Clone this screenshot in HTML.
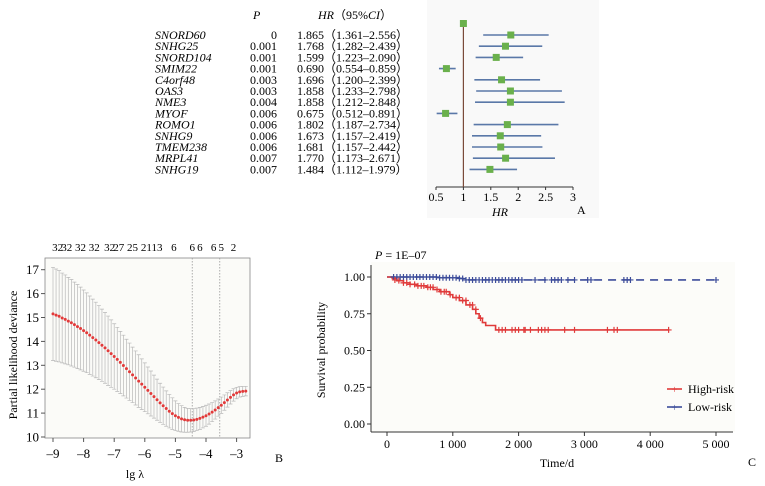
<!DOCTYPE html>
<html><head><meta charset="utf-8"><style>
html,body{margin:0;padding:0;background:#fff;}
svg{display:block;font-family:"Liberation Serif",serif;}
</style></head><body>
<svg id="fig" width="765" height="486" viewBox="0 0 765 486">
<g id="pa">
<rect x="427" y="0" width="172" height="218" fill="#f9f9f9"/>
<text x="253" y="19" font-style="italic" font-size="12">P</text>
<text x="318" y="19" font-size="12"><tspan font-style="italic">HR</tspan>（95%<tspan font-style="italic">CI</tspan>）</text>
<text x="500" y="216" font-style="italic" font-size="12" text-anchor="middle">HR</text>
<text x="577" y="214" font-size="12">A</text>
</g>
<g id="pb">
<rect x="45" y="258" width="205" height="180" fill="#fbfbf8" stroke="#888" stroke-width="0.8"/>
<text transform="translate(17,355) rotate(-90)" font-size="12" text-anchor="middle">Partial likelihood deviance</text>
<text x="135" y="478" font-size="12" text-anchor="middle">lg λ</text>
<text x="275" y="462" font-size="12">B</text>
</g>
<g id="pc">
<rect x="371" y="262" width="364" height="170" fill="#fcfcf9"/>
<line x1="371" y1="265" x2="371" y2="432" stroke="#333" stroke-width="1"/>
<line x1="371" y1="432" x2="733" y2="432" stroke="#333" stroke-width="1"/>
<text x="375" y="259" font-size="12"><tspan font-style="italic">P</tspan> = 1E–07</text>
<text transform="translate(325,350) rotate(-90)" font-size="12" text-anchor="middle">Survival probability</text>
<text x="557" y="467" font-size="12" text-anchor="middle">Time/d</text>
<text x="748" y="466" font-size="12">C</text>
<line x1="667" y1="389" x2="682" y2="389" stroke="#e03a3a" stroke-width="1.6"/>
<text x="674.5" y="393" font-size="11" fill="#e03a3a" text-anchor="middle">+</text>
<text x="688" y="393" font-size="12">High-risk</text>
<line x1="667" y1="407" x2="682" y2="407" stroke="#3c4c9a" stroke-width="1.6"/>
<text x="674.5" y="411" font-size="11" fill="#3c4c9a" text-anchor="middle">+</text>
<text x="688" y="411" font-size="12">Low-risk</text>
</g>
</svg>
<script>
// ---- Panel A data
const genes=["SNORD60","SNHG25","SNORD104","SMIM22","C4orf48","OAS3","NME3","MYOF","ROMO1","SNHG9","TMEM238","MRPL41","SNHG19"];
const pvals=["0","0.001","0.001","0.001","0.003","0.003","0.004","0.006","0.006","0.006","0.006","0.007","0.007"];
const hr=[1.865,1.768,1.599,0.690,1.696,1.858,1.858,0.675,1.802,1.673,1.681,1.770,1.484];
const lo=[1.361,1.282,1.223,0.554,1.200,1.233,1.212,0.512,1.187,1.157,1.157,1.173,1.112];
const hi=[2.556,2.439,2.090,0.859,2.399,2.798,2.848,0.891,2.734,2.419,2.442,2.671,1.979];
const hrTicks=[0.5,1,1.5,2,2.5,3];
// ---- Panel B data
const lambdaStart=-9.0, lambdaStep=0.1;
const devMean=[15.15,15.10,15.05,14.98,14.92,14.85,14.78,14.70,14.62,14.54,14.45,14.36,14.26,14.16,14.06,13.95,13.84,13.73,13.61,13.49,13.37,13.25,13.12,12.99,12.86,12.73,12.60,12.47,12.34,12.21,12.08,11.95,11.82,11.69,11.56,11.43,11.31,11.19,11.08,10.98,10.89,10.82,10.76,10.72,10.70,10.70,10.71,10.74,10.78,10.83,10.89,10.96,11.04,11.13,11.23,11.33,11.44,11.55,11.66,11.76,11.84,11.89,11.91,11.92];
const devSe=[1.95,1.93,1.91,1.88,1.86,1.83,1.81,1.78,1.76,1.73,1.70,1.67,1.64,1.61,1.58,1.55,1.51,1.48,1.45,1.41,1.37,1.34,1.30,1.27,1.23,1.20,1.16,1.13,1.10,1.06,1.02,0.98,0.94,0.90,0.86,0.82,0.78,0.74,0.70,0.66,0.62,0.58,0.55,0.52,0.50,0.49,0.48,0.47,0.46,0.45,0.44,0.42,0.40,0.38,0.36,0.34,0.32,0.30,0.28,0.26,0.24,0.22,0.21,0.20];
const lamTicks=[-9,-8,-7,-6,-5,-4,-3];
const devTicks=[10,11,12,13,14,15,16,17];
const topLab=["32","32","32","32","32","27","25","21","13","6","6","6","6","5","2"];
const topLabX=[-8.85,-8.55,-8.1,-7.65,-7.15,-6.85,-6.4,-5.95,-5.6,-5.05,-4.45,-4.2,-3.75,-3.5,-3.1];
const vlines=[-4.45,-3.55];
// ---- Panel C data
const highT=[0,80,150,250,350,450,600,700,800,950,1000,1100,1200,1300,1350,1400,1450,1500,1650,4280];
const highS=[1.00,0.99,0.975,0.96,0.95,0.94,0.93,0.915,0.90,0.88,0.86,0.84,0.81,0.78,0.75,0.72,0.69,0.67,0.64,0.64];
const highCens=[120,180,250,300,350,420,470,520,560,620,660,700,760,820,870,900,960,1050,1100,1150,1200,1260,1300,1350,1420,1700,1750,1800,1900,1950,2000,2080,2100,2180,2300,2350,2400,2450,2700,2850,3350,3450,3500,4280];
const highCensS=[0.98,0.975,0.96,0.96,0.95,0.95,0.94,0.94,0.94,0.93,0.93,0.93,0.915,0.90,0.90,0.90,0.88,0.86,0.86,0.84,0.84,0.81,0.81,0.78,0.72,0.64,0.64,0.64,0.64,0.64,0.64,0.64,0.64,0.64,0.64,0.64,0.64,0.64,0.64,0.64,0.64,0.64,0.64,0.64];
const lowT=[0,800,1100,1200,5000];
const lowS=[1.00,0.995,0.99,0.98,0.98];
const lowCens=[100,150,200,250,300,350,400,450,500,550,600,650,700,750,800,850,900,950,1000,1050,1100,1150,1200,1250,1300,1350,1400,1450,1500,1550,1600,1650,1700,1750,1800,1850,1900,1950,2000,2050,2250,2400,2500,2550,2600,2650,2750,2850,3050,3100,3600,3650,3700,5000];
const survTicks=[0,0.25,0.5,0.75,1];
const timeTicks=[0,1000,2000,3000,4000,5000];
const timeLab=["0","1 000","2 000","3 000","4 000","5 000"];

const NS="http://www.w3.org/2000/svg";
function mk(parent,tag,attrs,txt){const e=document.createElementNS(NS,tag);for(const k in attrs)e.setAttribute(k,attrs[k]);if(txt!==undefined)e.textContent=txt;parent.appendChild(e);return e;}

// Panel A
const pa=document.getElementById('pa');
const xA=v=>436+(v-0.5)*54.8;
const rowY=i=>35+i*11.2;
mk(pa,'line',{x1:xA(0.5),y1:187,x2:xA(3),y2:187,stroke:'#333','stroke-width':1});
hrTicks.forEach(t=>{
 mk(pa,'line',{x1:xA(t),y1:187,x2:xA(t),y2:190,stroke:'#333'});
 const tx=mk(pa,'text',{x:xA(t),y:201,'font-size':12,'text-anchor':'middle'},String(t));
 
 
});
const ref=mk(pa,'line',{x1:xA(1),y1:20,x2:xA(1),y2:187,stroke:'#7a4a3a','stroke-width':1.2});


const refSq=mk(pa,'rect',{x:xA(1)-3.5,y:20,width:7,height:7,fill:'#6ab04c'});


genes.forEach((g,i)=>{
 const y=rowY(i);
 const t1=mk(pa,'text',{x:155,y:y+4,'font-size':12,'font-style':'italic'},g);
 
 
 const t2=mk(pa,'text',{x:277,y:y+4,'font-size':12,'text-anchor':'end'},pvals[i]);
 
 
 const t3=mk(pa,'text',{x:297,y:y+4,'font-size':12},hr[i].toFixed(3)+"（"+lo[i].toFixed(3)+"–"+hi[i].toFixed(3)+"）");
 
 
 const l=mk(pa,'line',{x1:xA(lo[i]),y1:y,x2:xA(hi[i]),y2:y,stroke:'#5a78a8','stroke-width':1.6});
 
 
 const s=mk(pa,'rect',{x:xA(hr[i])-3.5,y:y-3.5,width:7,height:7,fill:'#6ab04c'});
 
 
});

// Panel B
const pb=document.getElementById('pb');
const xB=v=>53+(v+9)*30.6;
const yB=v=>437-(v-10)*23.9;
lamTicks.forEach(t=>{
 mk(pb,'line',{x1:xB(t),y1:438,x2:xB(t),y2:442,stroke:'#555'});
 const tx=mk(pb,'text',{x:xB(t),y:458,'font-size':13,'text-anchor':'middle'},'–'+Math.abs(t));
 
 
});
devTicks.forEach(t=>{
 mk(pb,'line',{x1:41,y1:yB(t),x2:45,y2:yB(t),stroke:'#555'});
 const tx=mk(pb,'text',{x:39,y:yB(t)+4.5,'font-size':13,'text-anchor':'end'},String(t));
 
 
});
topLab.forEach((s,i)=>{
 const tx=mk(pb,'text',{x:xB(topLabX[i]),y:251,'font-size':11,'text-anchor':'middle'},s);
 
 
});
vlines.forEach(v=>{
 const l=mk(pb,'line',{x1:xB(v),y1:258,x2:xB(v),y2:438,stroke:'#999','stroke-width':0.8,'stroke-dasharray':'1.5,1.5'});
 
 
});
devMean.forEach((m,i)=>{
 const lam=lambdaStart+i*lambdaStep, x=xB(lam), u=yB(m+devSe[i]), d=yB(m-devSe[i]);
 const e=mk(pb,'path',{d:`M${x},${u}V${d}M${x-2},${u}H${x+2}M${x-2},${d}H${x+2}`,stroke:'#b8b8b8','stroke-width':0.7,fill:'none'});
 
 
});
devMean.forEach((m,i)=>{
 const lam=lambdaStart+i*lambdaStep;
 const c=mk(pb,'circle',{cx:xB(lam),cy:yB(m),r:1.5,fill:'#e23a3a'});
 
 
});

// Panel C
const pc=document.getElementById('pc');
const xC=v=>387+v*0.0658;
const yC=v=>424-v*147;
survTicks.forEach(t=>{
 mk(pc,'line',{x1:367,y1:yC(t),x2:371,y2:yC(t),stroke:'#333'});
 const tx=mk(pc,'text',{x:365,y:yC(t)+4,'font-size':12,'text-anchor':'end'},t.toFixed(2));
 
 
});
timeTicks.forEach((t,i)=>{
 mk(pc,'line',{x1:xC(t),y1:432,x2:xC(t),y2:436,stroke:'#333'});
 const tx=mk(pc,'text',{x:xC(t),y:448,'font-size':12,'text-anchor':'middle'},timeLab[i]);
 
 
});
function stepPath(T,S){let d=`M${xC(T[0])},${yC(S[0])}`;for(let i=1;i<T.length;i++){d+=`H${xC(T[i])}V${yC(S[i])}`;}return d;}
const lowP=mk(pc,'path',{d:stepPath(lowT,lowS),stroke:'#3c4c9a','stroke-width':1.6,fill:'none','stroke-dasharray':'8,6'});


const highP=mk(pc,'path',{d:stepPath(highT,highS),stroke:'#e03a3a','stroke-width':1.6,fill:'none'});


function survAt(T,S,t){let s=S[0];for(let i=0;i<T.length;i++){if(T[i]<=t)s=S[i];}return s;}
lowCens.forEach(t=>{
 const x=xC(t),y=yC(survAt(lowT,lowS,t));
 const c=mk(pc,'path',{d:`M${x-3},${y}H${x+3}M${x},${y-3}V${y+3}`,stroke:'#3c4c9a','stroke-width':1.2});
 
 
});
highCens.forEach((t,i)=>{
 const x=xC(t),y=yC(highCensS[i]);
 const c=mk(pc,'path',{d:`M${x-3},${y}H${x+3}M${x},${y-3}V${y+3}`,stroke:'#e03a3a','stroke-width':1.2});
 
 
});
</script>
</body></html>
